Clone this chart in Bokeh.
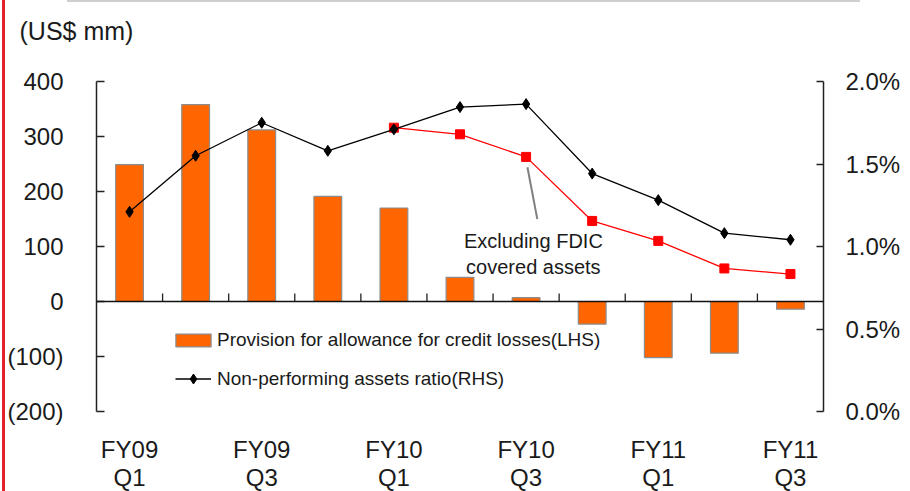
from bokeh.plotting import figure
from bokeh.models import (Range1d, LinearAxis, FixedTicker, PrintfTickFormatter,
                          Legend, LegendItem, Label, Span, ColumnDataSource)
from bokeh.core.properties import value
from bokeh.embed import file_html
from bokeh.resources import INLINE

# ---- data ----
fiscal_years = ["FY09", "FY09", "FY09", "FY09", "FY10", "FY10",
                "FY10", "FY10", "FY11", "FY11", "FY11"]
fiscal_quarters = ["Q1", "Q2", "Q3", "Q4", "Q1", "Q2", "Q3", "Q4", "Q1", "Q2", "Q3"]
provision = [249, 358, 312, 191, 170, 44, 7, -41, -102, -94, -14]
npa_ratio = [1.21, 1.55, 1.75, 1.58, 1.71, 1.845, 1.863, 1.442, 1.281, 1.081, 1.041]
npa_excl_fdic = [None, None, None, None, 1.72, 1.68, 1.543, 1.155, 1.034, 0.867, 0.833]
left_ticks = [-200, -100, 0, 100, 200, 300, 400]
right_ticks = [0.0, 0.5, 1.0, 1.5, 2.0]
shown_labels = [0, 2, 4, 6, 8, 10]

FONT = "Liberation Sans"
TXT = "#1a1a1a"
W, H = 910, 491
TOP, LEFT, RIGHT = 81, 96, 87        # borders (px)
PLOT_H = 330                          # height of the value area (px)
EXTRA = H - TOP - PLOT_H              # label strip under the value area (px)

L_MIN, L_MAX = -200, 400
R_MIN, R_MAX = 0.0, 2.0
l_per_px = (L_MAX - L_MIN) / PLOT_H
r_per_px = (R_MAX - R_MIN) / PLOT_H

xs = list(range(len(fiscal_years)))

p = figure(width=W, height=H, output_backend="svg", toolbar_location=None,
           x_range=Range1d(-0.5, len(xs) - 0.5),
           y_range=Range1d(L_MIN - EXTRA * l_per_px, L_MAX),
           min_border_left=LEFT, min_border_right=RIGHT, min_border_top=TOP, min_border_bottom=0)
p.outline_line_color = None
p.grid.visible = False
p.border_fill_alpha = 0
p.background_fill_color = "white"
p.styles = {
    "background-color": "white",
    "background-image": "linear-gradient(#E0202A, #E0202A), linear-gradient(#cfcfcf, #cfcfcf)",
    "background-size": "3px 100%, 793px 2px",
    "background-position": "2px 0px, 67px 0px",
    "background-repeat": "no-repeat",
}
p.extra_y_ranges = {"pct": Range1d(R_MIN - EXTRA * r_per_px, R_MAX)}

# unit caption (second, blank line lifts it to the top of the page)
p.title.text = "(US$ mm)\n\u00a0"
p.title.align = "left"
p.title.offset = -77
p.title.standoff = 18
p.title.text_font = FONT
p.title.text_font_size = "25px"
p.title.text_font_style = "normal"
p.title.text_color = TXT

p.xaxis.visible = False

# left axis
ya = p.yaxis[0]
ya.bounds = (L_MIN, L_MAX)
ya.ticker = FixedTicker(ticks=left_ticks)
ya.major_label_overrides = {t: (f"({abs(t)})" if t < 0 else str(t)) for t in left_ticks}
ya.major_tick_in = 8
ya.major_tick_out = 0
ya.minor_tick_line_color = None
ya.axis_line_color = "#222222"
ya.axis_line_width = 1.5
ya.major_tick_line_color = "#222222"
ya.major_tick_line_width = 1.5
ya.major_label_standoff = 33
ya.major_label_text_font = FONT
ya.major_label_text_font_size = "24px"
ya.major_label_text_color = TXT

# right axis
ra = LinearAxis(y_range_name="pct", ticker=FixedTicker(ticks=right_ticks),
                formatter=PrintfTickFormatter(format="%.1f%%"), bounds=(R_MIN, R_MAX))
ra.major_tick_in = 7
ra.major_tick_out = 0
ra.minor_tick_line_color = None
ra.axis_line_color = "#222222"
ra.axis_line_width = 1.5
ra.major_tick_line_color = "#222222"
ra.major_tick_line_width = 1.5
ra.major_label_standoff = 22
ra.major_label_text_font = FONT
ra.major_label_text_font_size = "24px"
ra.major_label_text_color = TXT
p.add_layout(ra, "right")

# category labels (two lines) under the value area
lab_x = [xs[i] for i in shown_labels]
p.text(x=lab_x, y=L_MIN - 38 * l_per_px, text=[fiscal_years[i] for i in shown_labels],
       text_align="center", text_baseline="middle", text_font=value(FONT),
       text_font_size="24px", text_color=TXT)
p.text(x=lab_x, y=L_MIN - 66 * l_per_px, text=[fiscal_quarters[i] for i in shown_labels],
       text_align="center", text_baseline="middle", text_font=value(FONT),
       text_font_size="24px", text_color=TXT)

# bars
bars = p.vbar(x=xs, top=provision, width=0.42, bottom=0,
              fill_color="#FF6600", line_color="#8c8c8c", line_width=1.2)

# zero line and separators
p.add_layout(Span(location=0, dimension="width", line_color="#111111", line_width=1.5))
p.segment(x0=[i + 0.5 for i in xs[:-1]], y0=0, x1=[i + 0.5 for i in xs[:-1]], y1=8 * l_per_px,
          line_color="#222222", line_width=1.3)

# lines
src_excl = ColumnDataSource(dict(x=xs[4:], y=npa_excl_fdic[4:]))
p.line("x", "y", source=src_excl, y_range_name="pct", line_color="#FF0000", line_width=1.3)
p.scatter("x", "y", source=src_excl, y_range_name="pct", marker="square", size=9,
          fill_color="#FF0000", line_color="#FF0000")

npa_line = p.line(xs, npa_ratio, y_range_name="pct", line_color="black", line_width=1.3)
npa_pts = p.scatter(xs, npa_ratio, y_range_name="pct", marker="diamond", size=11,
                    fill_color="black", line_color="black")

# annotation
p.segment(x0=[6.02], y0=[1.48], x1=[6.17], y1=[1.166], y_range_name="pct",
          line_color="#808080", line_width=2)
p.add_layout(Label(x=6.11, y=0.955, y_range_name="pct", text="Excluding FDIC\ncovered assets",
                   text_align="center", text_baseline="middle", text_font=FONT,
                   text_font_size="20px", text_color=TXT, text_line_height=1.15))

# legends (positions relative to the bottom of the value area)
leg1 = Legend(items=[LegendItem(label="Provision for allowance for credit losses(LHS)", renderers=[bars])],
              location=(75, 60 + EXTRA), glyph_width=44, glyph_height=16, label_standoff=2,
              padding=0, margin=0, border_line_color=None, background_fill_alpha=0,
              label_text_font=FONT, label_text_font_size="19px", label_text_color=TXT)
leg2 = Legend(items=[LegendItem(label="Non-performing assets ratio(RHS)", renderers=[npa_line, npa_pts])],
              location=(79, 20 + EXTRA), glyph_width=36, glyph_height=25, label_standoff=6,
              padding=0, margin=0, border_line_color=None, background_fill_alpha=0,
              label_text_font=FONT, label_text_font_size="19px", label_text_color=TXT)
p.add_layout(leg1, "center")
p.add_layout(leg2, "center")

open("out.html", "w").write(file_html(p, INLINE))
